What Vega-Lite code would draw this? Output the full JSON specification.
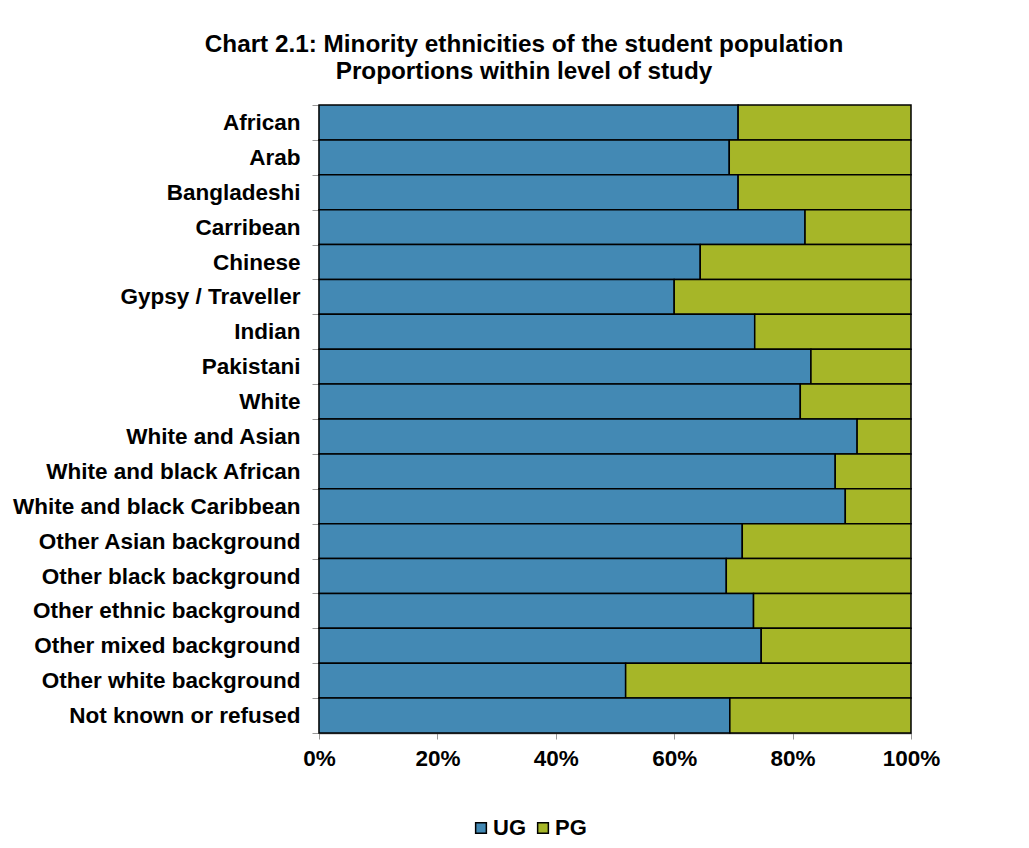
{
  "$schema": "https://vega.github.io/schema/vega-lite/v6.json",
  "width": 592,
  "height": 628,
  "autosize": {"type": "none"},
  "padding": {"left": 319, "top": 105, "right": 118, "bottom": 115},
  "background": "white",
  "title": {
    "text": ["Chart 2.1: Minority ethnicities of the student population", "Proportions within level of study"],
    "font": "Liberation Sans",
    "fontSize": 24.3,
    "fontWeight": "bold",
    "lineHeight": 27,
    "color": "black",
    "anchor": "middle",
    "dx": -91,
    "offset": 10
  },
  "data": {"values": [
    {"ethnicity": "African", "level": "UG", "value": 70.8},
    {"ethnicity": "African", "level": "PG", "value": 29.2},
    {"ethnicity": "Arab", "level": "UG", "value": 69.3},
    {"ethnicity": "Arab", "level": "PG", "value": 30.7},
    {"ethnicity": "Bangladeshi", "level": "UG", "value": 70.8},
    {"ethnicity": "Bangladeshi", "level": "PG", "value": 29.2},
    {"ethnicity": "Carribean", "level": "UG", "value": 82.1},
    {"ethnicity": "Carribean", "level": "PG", "value": 17.9},
    {"ethnicity": "Chinese", "level": "UG", "value": 64.4},
    {"ethnicity": "Chinese", "level": "PG", "value": 35.6},
    {"ethnicity": "Gypsy / Traveller", "level": "UG", "value": 60.0},
    {"ethnicity": "Gypsy / Traveller", "level": "PG", "value": 40.0},
    {"ethnicity": "Indian", "level": "UG", "value": 73.6},
    {"ethnicity": "Indian", "level": "PG", "value": 26.4},
    {"ethnicity": "Pakistani", "level": "UG", "value": 83.1},
    {"ethnicity": "Pakistani", "level": "PG", "value": 16.9},
    {"ethnicity": "White", "level": "UG", "value": 81.3},
    {"ethnicity": "White", "level": "PG", "value": 18.7},
    {"ethnicity": "White and Asian", "level": "UG", "value": 90.9},
    {"ethnicity": "White and Asian", "level": "PG", "value": 9.1},
    {"ethnicity": "White and black African", "level": "UG", "value": 87.2},
    {"ethnicity": "White and black African", "level": "PG", "value": 12.8},
    {"ethnicity": "White and black Caribbean", "level": "UG", "value": 88.9},
    {"ethnicity": "White and black Caribbean", "level": "PG", "value": 11.1},
    {"ethnicity": "Other Asian background", "level": "UG", "value": 71.5},
    {"ethnicity": "Other Asian background", "level": "PG", "value": 28.5},
    {"ethnicity": "Other black background", "level": "UG", "value": 68.8},
    {"ethnicity": "Other black background", "level": "PG", "value": 31.2},
    {"ethnicity": "Other ethnic background", "level": "UG", "value": 73.4},
    {"ethnicity": "Other ethnic background", "level": "PG", "value": 26.6},
    {"ethnicity": "Other mixed background", "level": "UG", "value": 74.7},
    {"ethnicity": "Other mixed background", "level": "PG", "value": 25.3},
    {"ethnicity": "Other white background", "level": "UG", "value": 51.8},
    {"ethnicity": "Other white background", "level": "PG", "value": 48.2},
    {"ethnicity": "Not known or refused", "level": "UG", "value": 69.4},
    {"ethnicity": "Not known or refused", "level": "PG", "value": 30.6}
  ]},
  "mark": {"type": "bar", "stroke": "black", "strokeWidth": 1.5},
  "encoding": {
    "y": {
      "field": "ethnicity",
      "type": "nominal",
      "sort": null,
      "title": null,
      "scale": {"paddingInner": 0, "paddingOuter": 0},
      "axis": {
        "labelFont": "Liberation Sans",
        "labelFontSize": 22.5,
        "labelFontWeight": "bold",
        "labelColor": "black",
        "labelPadding": 12,
        "labelLimit": 400,
        "tickBand": "extent",
        "tickSize": 7,
        "tickColor": "#999999",
        "domainColor": "#666666",
        "domainWidth": 1.5
      }
    },
    "x": {
      "field": "value",
      "type": "quantitative",
      "stack": "normalize",
      "title": null,
      "scale": {"domain": [0, 1]},
      "axis": {
        "format": ".0%",
        "values": [0, 0.2, 0.4, 0.6, 0.8, 1],
        "grid": false,
        "labelFlush": false,
        "labelFont": "Liberation Sans",
        "labelFontSize": 22.5,
        "labelFontWeight": "bold",
        "labelColor": "black",
        "labelPadding": 8,
        "tickSize": 6,
        "tickColor": "#999999",
        "domainColor": "#666666",
        "domainWidth": 1.5
      }
    },
    "color": {
      "field": "level",
      "type": "nominal",
      "sort": ["UG", "PG"],
      "scale": {"domain": ["UG", "PG"], "range": ["#4389B4", "#A6B628"]},
      "legend": {
        "title": null,
        "orient": "none",
        "direction": "horizontal",
        "legendX": 151,
        "legendY": 712,
        "symbolType": "square",
        "symbolSize": 115,
        "symbolStrokeColor": "black",
        "symbolStrokeWidth": 1.5,
        "symbolOpacity": 1,
        "labelFont": "Liberation Sans",
        "labelFontSize": 22,
        "labelFontWeight": "bold",
        "labelColor": "black",
        "labelOffset": 1,
        "columnPadding": 6
      }
    },
    "order": {"field": "level", "sort": "descending"}
  },
  "config": {"view": {"stroke": null}}
}
